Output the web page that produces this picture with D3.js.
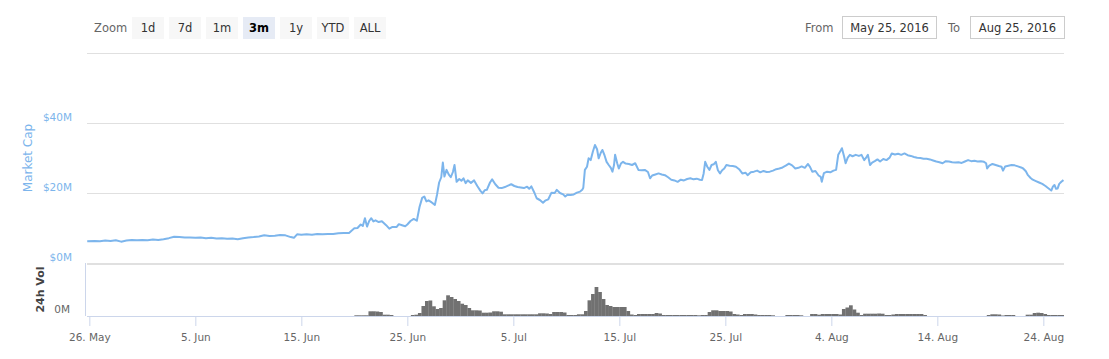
<!DOCTYPE html>
<html>
<head>
<meta charset="utf-8">
<script src="https://cdn.jsdelivr.net/npm/d3@7"></script>
<style>
  html, body { margin: 0; padding: 0; background: #fff; }
  svg { display: block; font-family: "DejaVu Sans", Verdana, sans-serif; }
</style>
</head>
<body>
<svg id="chart" width="1109" height="359"></svg>
<script>
// ---------------- DATA ----------------
// Market cap in $M; time as days since 26 May 2016 00:00 UTC
const mcapDays = [
  -0.2,0.5,1,1.5,2,2.5,3,3.5,4,4.5,
  5,5.5,6,6.5,7,7.5,8,8.5,9,9.5,
  10,10.5,11,11.5,12,12.5,13,13.5,14,14.5,
  15,15.5,16,16.5,17,17.5,18,18.5,19,19.3,
  19.6,20,20.5,21,21.5,22,22.5,23,23.5,24,
  24.5,25,25.3,25.6,25.8,26,26.2,26.4,26.6,26.8,
  27,27.3,27.6,28,28.3,28.6,29,29.2,29.5,29.8,
  30,30.3,30.6,30.9,31.15,31.4,31.6,31.8,32,32.3,
  32.6,32.8,33,33.2,33.35,33.5,33.7,33.9,34.1,34.3,
  34.45,34.65,34.9,35.1,35.3,35.5,35.7,36,36.3,36.6,
  36.9,37.1,37.3,37.5,37.8,38,38.3,38.6,38.9,39.2,
  39.5,39.8,40.1,40.4,40.7,41,41.3,41.5,41.7,42,
  42.2,42.5,42.8,43,43.3,43.6,43.9,44.1,44.4,44.7,
  44.9,45.1,45.4,45.7,46,46.3,46.5,46.6,46.75,46.95,
  47.1,47.3,47.5,47.7,47.9,48.05,48.25,48.4,48.6,48.8,
  49,49.2,49.35,49.5,49.6,49.8,49.95,50.15,50.35,50.6,
  50.9,51.2,51.5,51.8,52.1,52.4,52.7,52.9,53.1,53.4,
  53.7,54,54.3,54.6,54.9,55.2,55.5,55.8,56.1,56.4,
  56.7,57,57.3,57.6,57.8,57.95,58.1,58.3,58.5,58.7,
  58.9,59.1,59.3,59.5,59.7,59.9,60.1,60.4,60.7,61,
  61.3,61.6,61.9,62.1,62.4,62.7,63,63.3,63.6,63.9,
  64.2,64.5,64.8,65.1,65.4,65.7,66,66.3,66.6,66.9,
  67.2,67.5,67.8,68,68.2,68.5,68.8,69,69.1,69.3,
  69.6,69.9,70.2,70.45,70.65,70.9,71,71.2,71.35,71.55,
  71.75,72,72.3,72.6,72.85,73.1,73.3,73.45,73.65,73.85,
  74.1,74.35,74.6,74.9,75.2,75.5,75.7,76,76.3,76.6,
  76.9,77.2,77.5,77.8,78.1,78.4,78.7,79,79.3,79.6,
  79.9,80.2,80.5,80.8,81.1,81.4,81.7,82,82.3,82.6,
  82.9,83.2,83.5,83.8,84.1,84.4,84.6,84.7,84.9,85.2,
  85.5,85.8,86.05,86.2,86.4,86.7,87,87.3,87.6,87.9,
  88.1,88.35,88.55,88.8,89,89.3,89.6,89.9,90.2,90.5,
  90.75,90.9,91.05,91.2,91.35,91.5,91.7,91.9
];
const marketCap = [
  6.2,6.3,6.2,6.4,6.3,6.5,6.1,6.4,6.6,6.5,
  6.6,6.5,6.7,6.6,6.8,7.1,7.5,7.4,7.3,7.3,
  7.2,7.3,7.1,7.2,7.0,7.1,6.9,7.0,6.8,7.1,
  7.3,7.4,7.6,7.9,7.7,7.8,8.0,7.9,7.4,7.2,
  8.2,8.1,8.2,8.1,8.3,8.2,8.3,8.3,8.5,8.6,
  8.6,9.9,10.0,11.0,10.6,12.8,10.4,12.0,12.8,11.9,
  12.2,11.7,11.9,10.8,9.8,10.3,10.3,11.1,10.8,10.5,
  11.0,12.0,12.6,12.1,16.0,18.6,19.0,17.6,17.9,17.3,
  16.6,19.5,23.0,24.5,28.7,24.7,26.6,25.3,24.5,26.0,
  28.0,23.2,24.0,23.5,24.2,22.8,23.6,22.9,23.6,22.0,
  20.6,19.9,20.8,20.9,23.0,23.9,22.5,21.5,21.4,21.7,
  22.1,22.5,22.0,21.7,21.6,21.4,21.8,21.2,21.9,20.0,
  18.5,18.0,17.2,17.8,18.2,20.1,20.0,20.9,20.0,19.6,
  19.0,19.5,19.4,19.6,20.1,20.4,20.9,21.5,26.6,27.5,
  29.9,29.4,31.8,33.7,32.5,29.9,31.5,32.3,30.8,28.9,
  28.0,27.2,26.1,28.0,30.9,28.5,27.0,28.4,28.9,28.4,
  28.3,28.0,28.5,26.6,26.5,26.6,26.0,24.2,25.0,25.3,
  25.6,25.3,25.1,24.5,23.8,23.6,23.2,23.8,23.6,24.0,
  24.2,23.9,24.1,23.8,23.7,25.5,28.9,27.5,26.6,28.0,
  28.2,28.9,26.5,25.6,26.5,27.0,28.0,27.8,27.7,27.5,
  26.8,25.6,25.8,25.1,25.9,26.1,26.4,25.9,26.3,26.0,
  26.1,26.4,26.8,27.0,27.3,27.8,28.4,27.9,27.0,27.2,
  27.6,27.2,28.3,27.4,26.1,26.3,25.0,24.6,23.2,25.7,
  26.1,25.9,26.4,26.6,30.9,32.2,32.8,30.5,28.5,30.1,
  30.9,30.5,30.9,30.6,30.9,29.4,30.2,30.9,28.0,28.7,
  29.1,29.6,29.0,29.7,29.4,30.1,31.3,31.0,31.2,30.9,
  31.3,30.8,30.6,30.3,30.1,30.0,29.8,29.8,29.6,29.3,
  29.0,28.8,28.5,29.1,29.0,28.8,28.7,28.8,28.6,29.0,
  29.4,29.1,29.2,29.0,29.1,28.9,28.5,27.0,27.8,28.3,
  28.0,27.7,27.5,26.4,27.6,27.8,28.0,27.9,27.6,27.3,
  27.0,26.2,25.1,24.3,23.8,23.4,23.0,22.6,22.0,21.3,
  20.7,21.8,22.3,21.2,21.3,22.6,23.2,23.7
];

// 24h volume ($M), one value per 8-hour period starting 20 Jun 2016 00:00 UTC
const volumeStart = "2016-06-20T00:00Z";
const volumePeriodHours = 8;
const volume = [
  .07,.07,.07,.07,.47,.47,.45,.40,.13,.13,
  .10,0,0,0,0,0,.10,.13,.30,1.0,
  1.5,1.55,.97,.70,.80,1.57,2.07,1.90,1.70,1.50,
  1.23,1.10,.80,.57,.57,.55,.33,.33,.35,.47,
  .47,.43,.17,.17,.17,.17,.17,.17,.17,.17,
  .17,.17,.27,.27,.25,.20,.40,.40,.40,.35,
  .10,.10,.10,.17,.17,.50,1.57,2.2,2.9,2.4,
  1.7,1.1,1.0,.90,.90,.90,.90,.50,.15,.10,
  .20,.20,.20,.20,.20,.30,.25,.10,.10,.10,
  .10,.10,.10,.10,.10,.10,.10,.07,.10,.10,
  .40,.57,.57,.50,.50,.50,.45,.20,.15,.10,
  .20,.20,.20,.15,.10,.10,.10,.10,.07,0,
  0,0,.10,.10,.10,.10,.07,0,0,.20,
  .20,.13,.20,.20,.20,.20,.20,.15,.70,.85,
  1.07,.65,.33,.10,.23,.23,.23,.23,.25,.23,
  .10,.10,.15,.20,.20,.20,.20,.20,.20,.20,
  .20,.10,0,0,0,0,0,0,0,0,
  0,0,0,0,0,0,0,0,0,.10,
  .17,.17,.15,.05,.10,.10,.10,0,0,0,
  .13,.13,.30,.33,.30,.20,.10,.10,.10,.10,
  .10
];

const mcapTicks = [0, 20, 40, 60];
const mcapTickLabels = ["$0M", "$20M", "$40M", ""];
const volTicks = [0];
const volTickLabels = ["0M"];
const xTickDates = ["2016-05-26","2016-06-05","2016-06-15","2016-06-25","2016-07-05",
                    "2016-07-15","2016-07-25","2016-08-04","2016-08-14","2016-08-24"];
const xTickLabels = ["26. May","5. Jun","15. Jun","25. Jun","5. Jul",
                     "15. Jul","25. Jul","4. Aug","14. Aug","24. Aug"];
const zoomButtons = ["1d","7d","1m","3m","1y","YTD","ALL"];
const selectedButton = "3m";
const fromDate = "May 25, 2016";
const toDate = "Aug 25, 2016";

// ---------------- CHART ----------------
const DAY = 86400000;
const base = Date.UTC(2016, 4, 26);
const svg = d3.select("#chart");

const plotL = 87, plotR = 1064;
const mTop = 53, mBot = 263, vTop = 263, vBot = 316;

const x = d3.scaleUtc()
  .domain([new Date(base - 0.22 * DAY), new Date(base + 91.95 * DAY)])
  .range([plotL, plotR]);
const yM = d3.scaleLinear().domain([0, 60]).range([mBot, mTop]);
const yV = d3.scaleLinear().domain([0, 5.3]).range([vBot, vTop]);

// gridlines market cap
svg.append("g").selectAll("line").data(mcapTicks).join("line")
  .attr("x1", plotL).attr("x2", plotR)
  .attr("y1", d => Math.round(yM(d)) + 0.5).attr("y2", d => Math.round(yM(d)) + 0.5)
  .attr("stroke", "#e0e0e0").attr("stroke-width", 1);
// volume top gridline (second line → thicker divider)
svg.append("line").attr("x1", plotL).attr("x2", plotR)
  .attr("y1", vTop + 1.5).attr("y2", vTop + 1.5)
  .attr("stroke", "#e0e0e0").attr("stroke-width", 1);

// market cap y labels
svg.append("g").selectAll("text").data(mcapTicks).join("text")
  .attr("x", 72).attr("y", d => yM(d) - 2)
  .attr("text-anchor", "end")
  .attr("font-size", "10.5px").attr("fill", "#7cb5ec")
  .text((d, i) => mcapTickLabels[i]);

// volume y labels
svg.append("g").selectAll("text").data(volTicks).join("text")
  .attr("x", 70).attr("y", d => yV(d) - 3)
  .attr("text-anchor", "end")
  .attr("font-size", "10.5px").attr("fill", "#666")
  .text((d, i) => volTickLabels[i]);

// axis titles
svg.append("text")
  .attr("transform", `translate(32,${(mTop + mBot) / 2}) rotate(-90)`)
  .attr("text-anchor", "middle").attr("font-size", "12px").attr("fill", "#7cb5ec")
  .text("Market Cap");
svg.append("text")
  .attr("transform", `translate(44,${(vTop + vBot) / 2}) rotate(-90)`)
  .attr("text-anchor", "middle").attr("font-size", "11px").attr("font-weight", "bold").attr("fill", "#444")
  .text("24h Vol");

// volume axis line
svg.append("line").attr("x1", 85.5).attr("x2", 85.5).attr("y1", vTop).attr("y2", vBot)
  .attr("stroke", "#ccd6eb");

// clip
svg.append("defs").append("clipPath").attr("id", "clip")
  .append("rect").attr("x", plotL).attr("y", mTop - 5).attr("width", plotR - plotL).attr("height", vBot - mTop + 5);

// volume bars
const vStart = Date.parse(volumeStart);
const vStep = volumePeriodHours * 3600000;
svg.append("g").attr("clip-path", "url(#clip)").selectAll("rect")
  .data(volume.map((v, i) => ({ t: new Date(vStart + i * vStep), t2: new Date(vStart + (i + 1) * vStep), v })))
  .join("rect")
  .attr("x", d => x(d.t))
  .attr("width", d => x(d.t2) - x(d.t) + 0.2)
  .attr("y", d => yV(d.v))
  .attr("height", d => yV(0) - yV(d.v))
  .attr("fill", "#717171");

// market cap line
const mData = mcapDays.map((d, i) => ({ t: new Date(base + d * DAY), v: marketCap[i] }));
svg.append("path").datum(mData)
  .attr("clip-path", "url(#clip)")
  .attr("d", d3.line().x(d => x(d.t)).y(d => yM(d.v)))
  .attr("fill", "none").attr("stroke", "#7cb5ec").attr("stroke-width", 2)
  .attr("stroke-linejoin", "round");

// x axis
const xg = svg.append("g").attr("transform", `translate(0,${vBot})`);
const tickDates = xTickDates.map(s => new Date(s + "T00:00:00Z"));
const xAxis = d3.axisBottom(x).tickValues(tickDates).tickSize(10).tickPadding(8)
  .tickFormat((d, i) => xTickLabels[i]);
xg.call(xAxis);
xg.select(".domain").attr("d", `M${plotL},0.5H${plotR}`).attr("stroke", "#ccd6eb");
xg.selectAll(".tick line").attr("stroke", "#ccd6eb");
xg.selectAll(".tick text").attr("font-size", "10.5px").attr("fill", "#666")
  .attr("font-family", "DejaVu Sans");

// ---------------- range selector ----------------
svg.append("text").attr("x", 94).attr("y", 32).attr("font-size", "11.5px").attr("fill", "#666").text("Zoom");
const bg = svg.append("g").selectAll("g").data(zoomButtons).join("g")
  .attr("transform", (d, i) => `translate(${132 + i * 37},17)`);
bg.append("rect").attr("width", 32).attr("height", 22)
  .attr("fill", d => d === selectedButton ? "#e6ebf5" : "#f7f7f7");
bg.append("text").attr("x", 16).attr("y", 15).attr("text-anchor", "middle")
  .attr("font-size", "11.5px").attr("fill", d => d === selectedButton ? "#000" : "#333")
  .attr("font-weight", d => d === selectedButton ? "bold" : "normal")
  .text(d => d);

svg.append("text").attr("x", 805).attr("y", 32).attr("font-size", "11.5px").attr("fill", "#666").text("From");
svg.append("rect").attr("x", 842.5).attr("y", 16.5).attr("width", 94).attr("height", 22)
  .attr("fill", "#fff").attr("stroke", "#ccc");
svg.append("text").attr("x", 889.5).attr("y", 32).attr("text-anchor", "middle")
  .attr("font-size", "11.5px").attr("fill", "#333").text(fromDate);
svg.append("text").attr("x", 948).attr("y", 32).attr("font-size", "11.5px").attr("fill", "#666").text("To");
svg.append("rect").attr("x", 970.5).attr("y", 16.5).attr("width", 94).attr("height", 22)
  .attr("fill", "#fff").attr("stroke", "#ccc");
svg.append("text").attr("x", 1017.5).attr("y", 32).attr("text-anchor", "middle")
  .attr("font-size", "11.5px").attr("fill", "#333").text(toDate);
</script>
</body>
</html>
